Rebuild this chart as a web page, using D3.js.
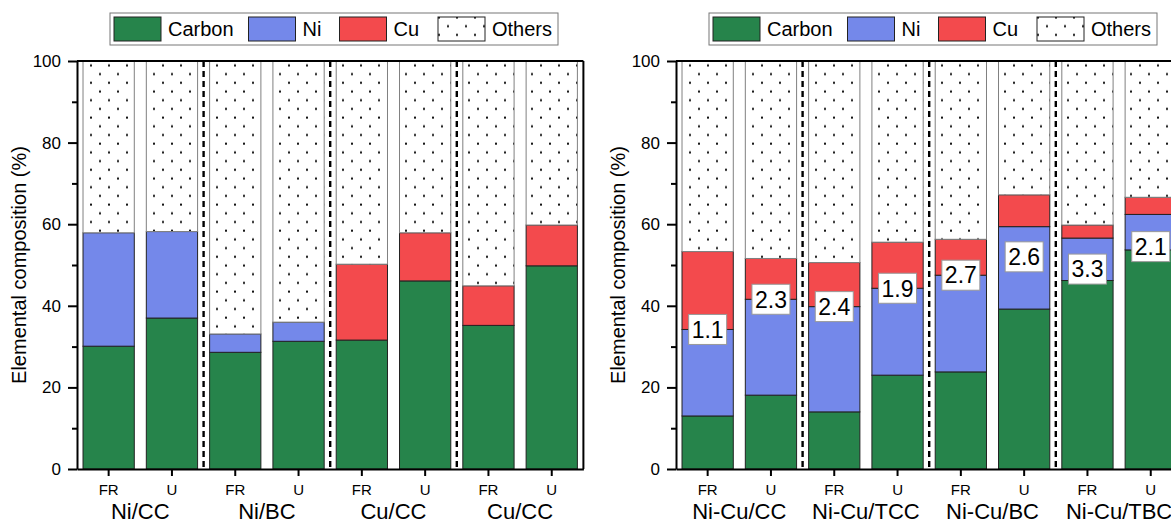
<!DOCTYPE html>
<html>
<head>
<meta charset="utf-8">
<script src="https://cdn.jsdelivr.net/npm/d3@7"></script>
<style>
body { margin: 0; background: #fff; }
svg { font-family: "Liberation Sans", Arial, sans-serif; }
</style>
</head>
<body>
<div id="chart"></div>
<script>
var components = ["Carbon", "Ni", "Cu", "Others"];
var states = ["FR", "U"];
var yTicks = [0, 20, 40, 60, 80, 100];
var yMinor = [10, 30, 50, 70, 90];

// left panel (single metal)
var leftGroups = ["Ni/CC", "Ni/BC", "Cu/CC", "Cu/CC"];
var leftCarbon = [30.1, 37.0, 28.6, 31.3, 31.6, 46.1, 35.2, 49.8];
var leftNi     = [27.8, 21.2, 4.5, 4.7, 0, 0, 0, 0];
var leftCu     = [0, 0, 0, 0, 18.6, 11.8, 9.7, 10.0];
var leftOthers = [42.1, 41.8, 66.9, 64.0, 49.8, 42.1, 55.1, 40.2];

// right panel (bimetallic)
var rightGroups = ["Ni-Cu/CC", "Ni-Cu/TCC", "Ni-Cu/BC", "Ni-Cu/TBC"];
var rightCarbon = [13.0, 18.1, 14.0, 23.0, 23.8, 39.2, 46.2, 53.7];
var rightNi     = [21.2, 23.5, 25.8, 21.3, 23.7, 20.2, 10.4, 8.7];
var rightCu     = [19.1, 10.0, 10.8, 11.3, 8.8, 7.8, 3.2, 4.2];
var rightOthers = [46.7, 48.4, 49.4, 44.4, 43.7, 32.8, 40.2, 33.4];
var ratioLabels = ["1.1", "2.3", "2.4", "1.9", "2.7", "2.6", "3.3", "2.1"];
var ratioPos    = [34.2, 41.6, 39.8, 44.3, 47.5, 52.0, 49.0, 54.5];

var width = 1171,
    height = 524,
    plotW = 506.4;

var colors = { Carbon: "#26844b", Ni: "#7488ea", Cu: "#f34a4d", Others: "url(#dots)" };
var legendX = [4, 138.5, 229.5, 328];

var svg = d3.select("#chart").append("svg")
    .attr("width", width)
    .attr("height", height);

// dotted fill for "Others"
var pat = svg.append("defs").append("pattern")
    .attr("id", "dots")
    .attr("patternUnits", "userSpaceOnUse")
    .attr("width", 18)
    .attr("height", 17.4);
pat.append("rect").attr("width", 18).attr("height", 17.4).attr("fill", "#fff");
pat.append("rect").attr("x", 4).attr("y", 3.5).attr("width", 2).attr("height", 2).attr("fill", "#111");
pat.append("rect").attr("x", 13).attr("y", 12.2).attr("width", 2).attr("height", 2).attr("fill", "#111");

var y = d3.scaleLinear().domain([0, 100]).range([469, 61]);

function drawPanel(x0, groups, carbon, ni, cu, others, labels, labelPos) {
  var g = svg.append("g").attr("transform", "translate(" + x0 + ",0)");

  var cats = [];
  groups.forEach(function(grp, i) {
    states.forEach(function(s) { cats.push(i + "|" + s); });
  });

  var x = d3.scaleBand()
      .domain(cats)
      .range([0, plotW])
      .paddingInner(0.19)
      .paddingOuter(0.095);
  var step = x.step();

  var rows = cats.map(function(c, i) {
    return { key: c, Carbon: carbon[i], Ni: ni[i], Cu: cu[i], Others: others[i] };
  });
  var series = d3.stack().keys(components)(rows);

  series.forEach(function(s) {
    g.selectAll(null)
      .data(s.filter(function(d) { return d[1] - d[0] > 0; }))
      .enter()
      .append("rect")
      .attr("x", function(d) { return x(d.data.key); })
      .attr("y", function(d) { return y(d[1]); })
      .attr("width", x.bandwidth())
      .attr("height", function(d) { return y(d[0]) - y(d[1]); })
      .attr("fill", colors[s.key])
      .attr("stroke", s.key === "Others" ? "#808080" : "#222")
      .attr("stroke-width", 1);
  });

  // dashed separators between groups
  g.selectAll(".sep")
    .data(groups.slice(1))
    .enter()
    .append("line")
    .attr("class", "sep")
    .attr("x1", function(d, i) { return x((i + 1) + "|FR") - (step - x.bandwidth()) / 2; })
    .attr("x2", function(d, i) { return x((i + 1) + "|FR") - (step - x.bandwidth()) / 2; })
    .attr("y1", y(100))
    .attr("y2", y(0))
    .style("stroke", "#000")
    .style("stroke-width", 2.4)
    .style("stroke-dasharray", "6,4");

  // frame
  g.append("line")
    .attr("x1", 0).attr("x2", plotW)
    .attr("y1", y(100)).attr("y2", y(100))
    .style("stroke", "#000").style("stroke-width", 2);
  g.append("line")
    .attr("x1", plotW).attr("x2", plotW)
    .attr("y1", y(100)).attr("y2", y(0))
    .style("stroke", "#000").style("stroke-width", 2);

  // y axis
  var yAxis = g.append("g")
    .call(d3.axisLeft(y).tickValues(yTicks).tickSize(9).tickSizeOuter(0).tickPadding(7));
  g.append("g")
    .call(d3.axisLeft(y).tickValues(yMinor).tickSize(5).tickSizeOuter(0).tickFormat(""))
    .select(".domain").remove();
  yAxis.selectAll("text").style("font-size", "17px").style("font-family", "Liberation Sans, Arial, sans-serif").attr("fill", "#000");
  g.selectAll(".domain").style("stroke-width", 2);
  g.selectAll(".tick line").style("stroke-width", 2);

  // x axis
  var xAxis = g.append("g")
    .attr("transform", "translate(0," + y(0) + ")")
    .call(d3.axisBottom(x).tickSize(7).tickSizeOuter(0).tickPadding(8)
      .tickFormat(function(d) { return d.split("|")[1]; }));
  xAxis.select(".domain").style("stroke-width", 2);
  xAxis.selectAll(".tick line").style("stroke-width", 2);
  xAxis.selectAll("text").style("font-size", "15px").style("font-family", "Liberation Sans, Arial, sans-serif").attr("fill", "#000");

  // group names
  g.selectAll(".grp")
    .data(groups)
    .enter()
    .append("text")
    .attr("class", "grp")
    .attr("x", function(d, i) { return x(i + "|FR") + x.bandwidth() / 2 + step / 2; })
    .attr("y", 519)
    .attr("text-anchor", "middle")
    .style("font-size", "22px")
    .text(function(d) { return d; });

  // y label
  g.append("text")
    .attr("transform", "translate(-51,265) rotate(-90)")
    .attr("text-anchor", "middle")
    .style("font-size", "20px")
    .text("Elemental composition (%)");

  // ratio labels
  if (labels) {
    var lab = g.selectAll(".lab")
      .data(labels)
      .enter()
      .append("g")
      .attr("class", "lab")
      .attr("transform", function(d, i) {
        return "translate(" + (x(cats[i]) + x.bandwidth() / 2) + "," + y(labelPos[i]) + ")";
      });
    lab.append("rect")
      .attr("x", -19).attr("y", -15)
      .attr("width", 38).attr("height", 30)
      .attr("fill", "#fff")
      .attr("stroke", "#999");
    lab.append("text")
      .attr("text-anchor", "middle")
      .attr("dy", "0.36em")
      .style("font-size", "23px")
      .text(function(d) { return d; });
  }

  // legend
  var leg = g.append("g").attr("transform", "translate(33,13)");
  leg.append("rect")
    .attr("width", 448)
    .attr("height", 32)
    .attr("fill", "#fff")
    .attr("stroke", "#777");
  components.forEach(function(c, i) {
    leg.append("rect")
      .attr("x", legendX[i]).attr("y", 4)
      .attr("width", 47).attr("height", 24)
      .attr("fill", colors[c])
      .attr("stroke", "#222");
    leg.append("text")
      .attr("x", legendX[i] + 54)
      .attr("y", 23)
      .style("font-size", "20px")
      .text(c);
  });
}

drawPanel(77, leftGroups, leftCarbon, leftNi, leftCu, leftOthers, null, null);
drawPanel(676, rightGroups, rightCarbon, rightNi, rightCu, rightOthers, ratioLabels, ratioPos);
</script>
</body>
</html>
